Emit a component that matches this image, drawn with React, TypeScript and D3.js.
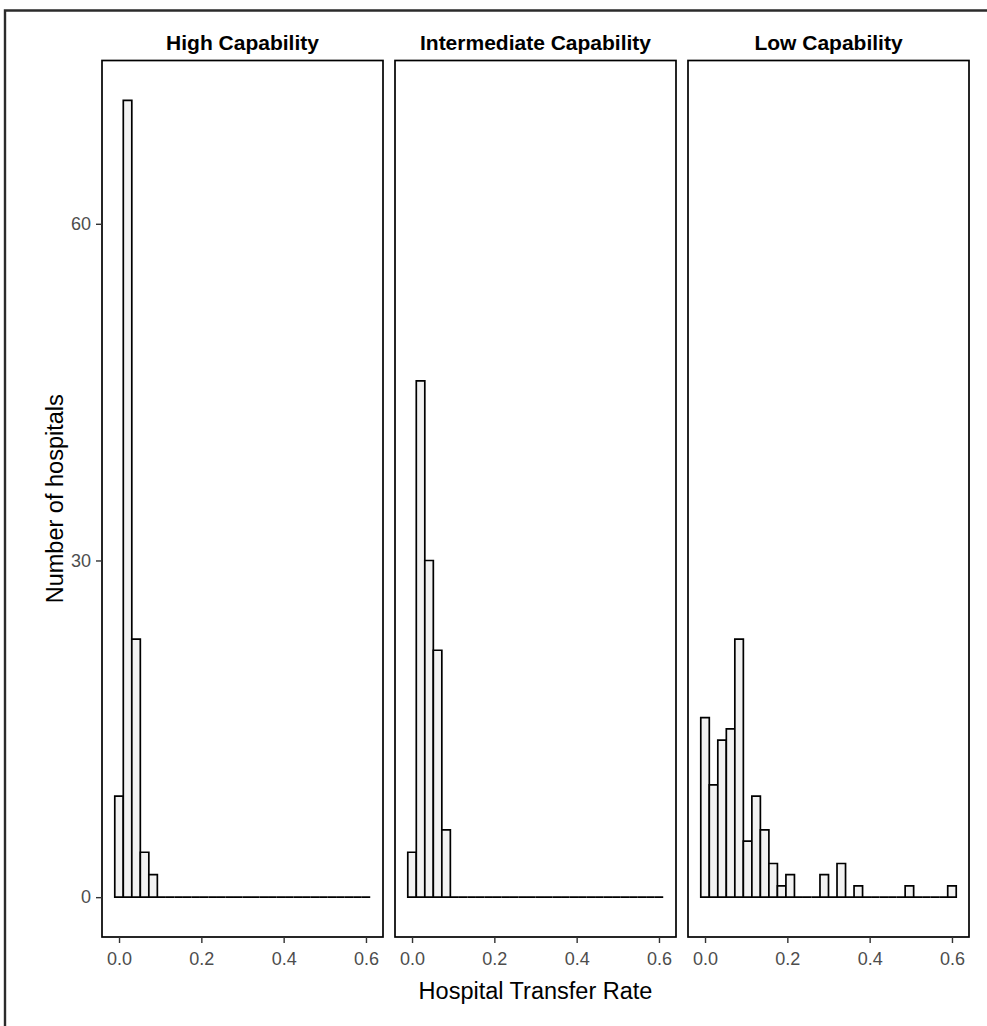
import React, { useEffect, useRef } from 'react';
import * as d3 from 'd3';

// facet labels
const facets = ['High Capability', 'Intermediate Capability', 'Low Capability'];

// histogram counts, 30 bins (ggplot default) over transfer rate 0 .. 0.6
const highCounts = [9, 71, 23, 4, 2, 0, 0, 0, 0, 0, 0, 0, 0, 0, 0, 0, 0, 0, 0, 0, 0, 0, 0, 0, 0, 0, 0, 0, 0, 0];
const intermediateCounts = [4, 46, 30, 22, 6, 0, 0, 0, 0, 0, 0, 0, 0, 0, 0, 0, 0, 0, 0, 0, 0, 0, 0, 0, 0, 0, 0, 0, 0, 0];
const lowCounts = [16, 10, 14, 15, 23, 5, 9, 6, 3, 1, 2, 0, 0, 0, 2, 0, 3, 0, 1, 0, 0, 0, 0, 0, 1, 0, 0, 0, 0, 1];

const rateMin = 0;
const rateMax = 0.6;
const xTicks = [0, 0.2, 0.4, 0.6];
const yTicks = [0, 30, 60];

export default function App() {
  const svgRef = useRef<SVGSVGElement>(null);

  useEffect(() => {
    const W = 987;
    const H = 1026;
    const panelTop = 60.5;
    const panelBottom = 937;
    const panelW = 281;
    const panelGap = 12;
    const panelLeft = 102;

    const svg = d3.select(svgRef.current);
    svg.selectAll('*').remove();
    svg.attr('width', W).attr('height', H);

    svg.append('rect').attr('width', W).attr('height', H).attr('fill', '#ffffff');

    // outer frame (top + left edge of the screenshot)
    svg.append('path')
      .attr('d', `M5,${H} V10.5 H${W}`)
      .attr('fill', 'none')
      .attr('stroke', '#2b2b2b')
      .attr('stroke-width', 2.4);

    const series = [highCounts, intermediateCounts, lowCounts];
    const nBins = highCounts.length;
    const binW = (rateMax - rateMin) / (nBins - 1);
    const lo = rateMin - binW / 2;
    const hi = rateMax + binW / 2;
    const xPad = (hi - lo) * 0.05;

    const yMax = d3.max(series.flat()) as number;
    const yPad = yMax * 0.05;

    const x = d3.scaleLinear().domain([lo - xPad, hi + xPad]).range([0, panelW]);
    const y = d3.scaleLinear().domain([-yPad, yMax + yPad]).range([panelBottom, panelTop]);

    const font = '"Liberation Sans", Arial, sans-serif';

    facets.forEach((name, k) => {
      const g = svg.append('g').attr('transform', `translate(${panelLeft + k * (panelW + panelGap)},0)`);

      // bars (zero bins drawn as flat outlines)
      g.selectAll('path.bar')
        .data(series[k])
        .enter()
        .append('path')
        .attr('class', 'bar')
        .attr('d', (d, i) => {
          const x0 = x(lo + i * binW);
          const x1 = x(lo + (i + 1) * binW);
          return `M${x0},${y(0)} V${y(d)} H${x1} V${y(0)} Z`;
        })
        .attr('fill', '#f2f2f2')
        .attr('stroke', '#000')
        .attr('stroke-width', 1.7)
        .attr('stroke-linejoin', 'miter');

      // panel border
      g.append('rect')
        .attr('x', 0)
        .attr('y', panelTop)
        .attr('width', panelW)
        .attr('height', panelBottom - panelTop)
        .attr('fill', 'none')
        .attr('stroke', '#000')
        .attr('stroke-width', 1.7);

      // strip label
      g.append('text')
        .attr('x', panelW / 2)
        .attr('y', 50)
        .attr('text-anchor', 'middle')
        .attr('font-family', font)
        .attr('font-weight', 'bold')
        .attr('font-size', 21)
        .attr('fill', '#000')
        .text(name);

      // x axis
      const xAxis = g.append('g')
        .attr('transform', `translate(0,${panelBottom})`)
        .call(d3.axisBottom(x).tickValues(xTicks).tickFormat(d3.format('.1f')).tickSize(6).tickSizeOuter(0));
      xAxis.select('.domain').remove();
      xAxis.selectAll('line').attr('stroke', '#333').attr('stroke-width', 1.4);
      xAxis.selectAll('text')
        .attr('font-family', font)
        .attr('font-size', 18)
        .attr('fill', '#4d4d4d')
        .attr('dy', '1.05em');

      if (k === 0) {
        const yAxis = g.append('g')
          .call(d3.axisLeft(y).tickValues(yTicks).tickSize(6).tickSizeOuter(0));
        yAxis.select('.domain').remove();
        yAxis.selectAll('line').attr('stroke', '#333').attr('stroke-width', 1.4);
        yAxis.selectAll('text')
          .attr('font-family', font)
          .attr('font-size', 18)
          .attr('fill', '#4d4d4d')
          .attr('x', -11);
      }
    });

    const plotMid = panelLeft + (3 * panelW + 2 * panelGap) / 2;

    svg.append('text')
      .attr('x', plotMid)
      .attr('y', 999)
      .attr('text-anchor', 'middle')
      .attr('font-family', font)
      .attr('font-size', 23.5)
      .attr('fill', '#000')
      .text('Hospital Transfer Rate');

    svg.append('text')
      .attr('transform', `translate(63,${(panelTop + panelBottom) / 2}) rotate(-90)`)
      .attr('text-anchor', 'middle')
      .attr('font-family', font)
      .attr('font-size', 23.5)
      .attr('fill', '#000')
      .text('Number of hospitals');
  }, []);

  return (
    <div style={{ position: 'absolute', left: 0, top: 0, width: 987, height: 1026, background: '#fff' }}>
      <svg ref={svgRef} style={{ display: 'block' }}></svg>
    </div>
  );
}
